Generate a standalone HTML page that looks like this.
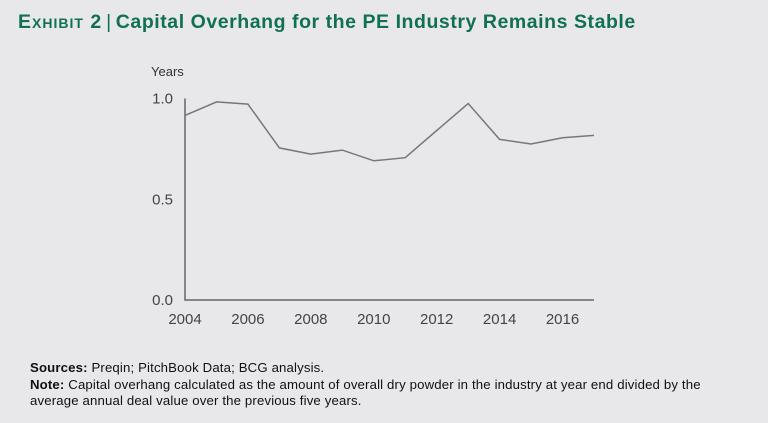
<!DOCTYPE html>
<html><head><meta charset="utf-8"><style>
body{margin:0;width:768px;height:423px;background:#e8e8ea;font-family:"Liberation Sans",sans-serif;overflow:hidden;position:relative}
.title{position:absolute;left:18px;top:11px;font-size:19.5px;font-weight:bold;color:#0f7150;white-space:nowrap;letter-spacing:0.55px}
.sc{font-variant:small-caps;letter-spacing:1px}
.bar{font-weight:normal;margin:0 4px}
.notes{position:absolute;left:30px;top:360px;font-size:13.2px;letter-spacing:0.15px;color:#111;line-height:16.5px;width:692px}
</style></head><body>
<div class="title"><span class="sc">Exhibit 2</span><span class="bar">|</span>Capital Overhang for the PE Industry Remains Stable</div>
<svg id="chart" width="768" height="423" style="position:absolute;left:0;top:0"></svg>
<div class="notes"><b>Sources:</b> Preqin; PitchBook Data; BCG analysis.<br><b>Note:</b> Capital overhang calculated as the amount of overall dry powder in the industry at year end divided by the average annual deal value over the previous five years.</div>
<script>
const years=[2004,2005,2006,2007,2008,2009,2010,2011,2012,2013,2014,2015,2016,2017];
const values=[0.916,0.983,0.972,0.755,0.724,0.744,0.691,0.706,0.841,0.975,0.797,0.774,0.805,0.817];
const xTicks=[2004,2006,2008,2010,2012,2014,2016];
const yTicks=[0.0,0.5,1.0];
const svg=document.getElementById('chart');
const NS='http://www.w3.org/2000/svg';
const x0=185,x1=594,y0=300,y1=98.5;
function xs(v){return x0+(v-2004)/(2017-2004)*(x1-x0);}
function ys(v){return y0-(v/1.0)*(y0-y1);}
function mk(t,a){const e=document.createElementNS(NS,t);for(const k in a)e.setAttribute(k,a[k]);svg.appendChild(e);return e;}
let ax=mk('path',{d:`M${x0},${y1} V${y0} H${x1}`,stroke:'#666',fill:'none','stroke-width':1.5});


let yt=mk('text',{x:151,y:76,'font-size':13,fill:'#333'});yt.textContent='Years';


yTicks.forEach(v=>{let t=mk('text',{x:173,y:ys(v)+5,'font-size':15,fill:'#444','text-anchor':'end'});t.textContent=v.toFixed(1);

});
xTicks.forEach(v=>{let t=mk('text',{x:xs(v),y:324,'font-size':15,fill:'#444','text-anchor':'middle'});t.textContent=v;

});
let d=values.map((v,i)=>(i?'L':'M')+xs(years[i]).toFixed(1)+','+ys(v).toFixed(1)).join(' ');
let ln=mk('path',{d:d,stroke:'#777',fill:'none','stroke-width':1.5});


</script>
</body></html>
